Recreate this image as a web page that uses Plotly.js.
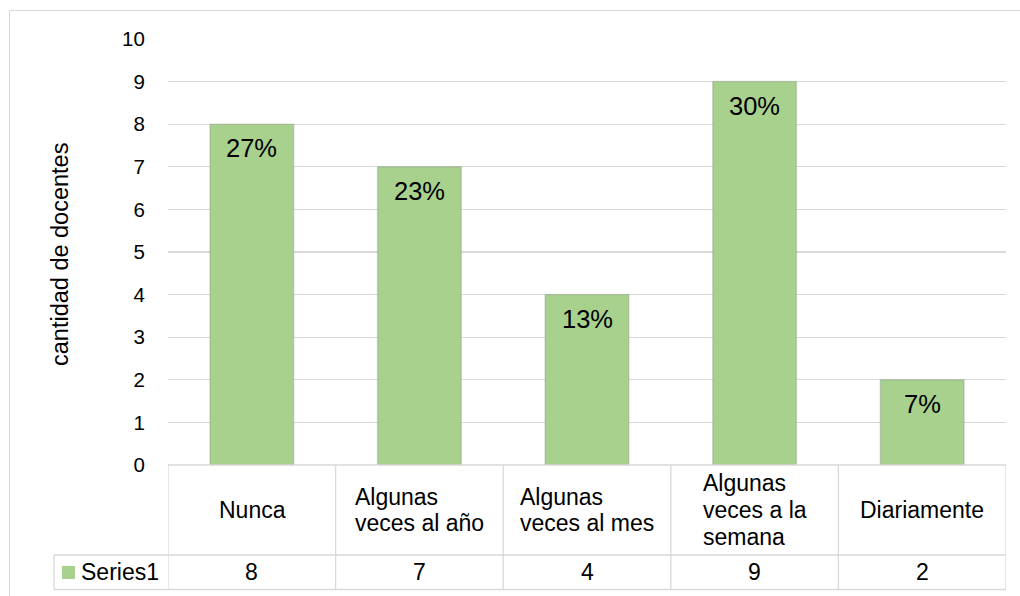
<!DOCTYPE html>
<html>
<head>
<meta charset="utf-8">
<script src="https://cdn.plot.ly/plotly-3.0.1.min.js"></script>
<style>
html,body{margin:0;padding:0;background:#fff;}
#chart{width:1020px;height:596px;}
</style>
</head>
<body>
<div id="chart"></div>
<script>
var categories = ['Nunca', 'Algunas veces al año', 'Algunas veces al mes', 'Algunas veces a la semana', 'Diariamente'];
var categoryLines = [['Nunca'], ['Algunas', 'veces al año'], ['Algunas', 'veces al mes'], ['Algunas', 'veces a la', 'semana'], ['Diariamente']];
var values = [8, 7, 4, 9, 2];
var pctLabels = ['27%', '23%', '13%', '30%', '7%'];
var seriesName = 'Series1';
var yTicks = [0,1,2,3,4,5,6,7,8,9,10];

var W = 1020, H = 596;
var L = 168, R = 1006, T = 39, B = 465;
var pw = R - L, ph = B - T;
function px2paperX(p){ return (p - L) / pw; }
function px2paperY(p){ return (B - p) / ph; }

var fontFam = 'Liberation Sans, Arial, sans-serif';
var lineCol = '#d9d9d9';
var green = '#a9d18e';
var catSize = 23, tickSize = 20.5, lblSize = 25.5;

var cv = document.createElement('canvas').getContext('2d');
function textW(t, s){ cv.font = s + 'px "Liberation Sans", Arial, sans-serif'; return cv.measureText(t).width; }

var idx = categories.map(function(_, i){ return i; });

var trace = {
  type: 'bar',
  x: idx,
  y: values,
  width: 0.5,
  marker: {color: green, line: {width: 1.5, color: 'rgba(110,110,110,0.22)'}},
  hoverinfo: 'none',
  name: seriesName
};

var shapes = [];
var annotations = [];

// outer chart border
shapes.push({type:'rect', xref:'paper', yref:'paper',
  x0: px2paperX(9.5), x1: px2paperX(1030), y0: px2paperY(610), y1: px2paperY(10.5),
  line:{color:lineCol, width:1}, layer:'below'});

// table
var rowTop = px2paperY(465), rowMid = px2paperY(555), rowBot = px2paperY(589.5);
shapes.push({type:'line', xref:'x', yref:'paper', x0:-0.5, x1:categories.length-0.5, y0:rowTop, y1:rowTop, line:{color:lineCol,width:1.3}});
shapes.push({type:'line', xref:'paper', yref:'paper', x0:px2paperX(54), x1:1, y0:rowMid, y1:rowMid, line:{color:lineCol,width:1.3}});
shapes.push({type:'line', xref:'paper', yref:'paper', x0:px2paperX(54), x1:1, y0:rowBot, y1:rowBot, line:{color:lineCol,width:1.3}});
shapes.push({type:'line', xref:'paper', yref:'paper', x0:px2paperX(54), x1:px2paperX(54), y0:rowMid, y1:rowBot, line:{color:lineCol,width:1.3}});
for (var i = 0; i <= categories.length; i++) {
  shapes.push({type:'line', xref:'x', yref:'paper', x0:i-0.5, x1:i-0.5, y0:rowTop, y1:rowBot, line:{color:lineCol,width:1.3}});
}
// legend key
shapes.push({type:'rect', xref:'paper', yref:'paper',
  x0:px2paperX(62), x1:px2paperX(75), y0:px2paperY(579), y1:px2paperY(566),
  fillcolor:green, line:{width:0}});

annotations.push({xref:'paper', yref:'paper', x:px2paperX(79), y:(rowMid+rowBot)/2,
  xanchor:'left', yanchor:'middle', text:seriesName, showarrow:false,
  font:{family:fontFam, size:catSize, color:'#000'}});

var lineGap = 26.5;
categories.forEach(function(c, i){
  var lines = categoryLines[i];
  var maxW = Math.max.apply(null, lines.map(function(t){ return textW(t, catSize); }));
  var cellMidPx = (465 + 555) / 2;
  lines.forEach(function(t, k){
    var offs = (k - (lines.length - 1) / 2) * lineGap;
    annotations.push({xref:'x', yref:'paper', x:i, xshift:-maxW/2 - 2, y:px2paperY(cellMidPx + offs),
      xanchor:'left', yanchor:'middle', text:t, showarrow:false,
      font:{family:fontFam, size:catSize, color:'#000'}});
  });
  annotations.push({xref:'x', yref:'paper', x:i, y:(rowMid+rowBot)/2,
    xanchor:'center', yanchor:'middle', text:String(values[i]), showarrow:false,
    font:{family:fontFam, size:catSize, color:'#000'}});
  annotations.push({xref:'x', yref:'y', x:i, y:values[i],
    xanchor:'center', yanchor:'top', yshift:-8, text:pctLabels[i], showarrow:false,
    font:{family:fontFam, size:lblSize, color:'#000'}});
});

// y title
annotations.push({xref:'paper', yref:'paper', x:px2paperX(60), y:px2paperY(254),
  xanchor:'center', yanchor:'middle', textangle:-90, text:'cantidad de docentes', showarrow:false,
  font:{family:fontFam, size:23.5, color:'#000'}});

var layout = {
  width: W, height: H,
  margin: {l: L, r: W - R, t: T, b: H - B, pad: 0},
  paper_bgcolor: '#fff', plot_bgcolor: '#fff',
  showlegend: false,
  xaxis: {range: [-0.5, categories.length - 0.5], showticklabels: false, showgrid: false,
    zeroline: false, showline: false, ticks: '', fixedrange: true},
  yaxis: {range: [0, 10], tickvals: yTicks, ticktext: yTicks.map(String), showgrid: true,
    gridcolor: lineCol, gridwidth: 1.3, zeroline: false, showline: false,
    ticks: 'outside', ticklen: 18, tickcolor: 'rgba(0,0,0,0)',
    tickfont: {family: fontFam, size: tickSize, color: '#000'}, fixedrange: true},
  shapes: shapes,
  annotations: annotations
};

Plotly.newPlot('chart', [trace], layout, {displayModeBar: false, staticPlot: true});
</script>
</body>
</html>
